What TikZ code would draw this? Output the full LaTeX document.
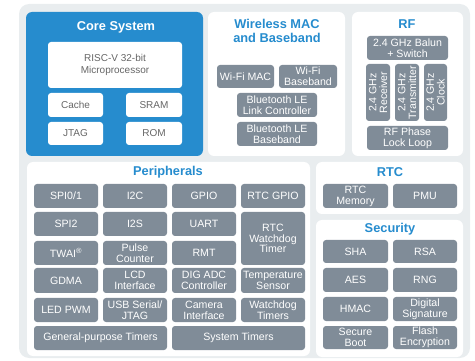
\documentclass[tikz,border=0pt]{standalone}
\usepackage{fontspec}
\setmainfont{Liberation Sans}
\definecolor{cblue}{HTML}{268CCE}
\definecolor{cgray}{HTML}{808C98}
\definecolor{cbg}{HTML}{E9EDEF}
\definecolor{ctext}{HTML}{666666}
\tikzset{
  gbox/.style={draw=none, fill=cgray, rounded corners=3pt, text=white, align=center, inner sep=0pt, font=\fontsize{10.6}{10.8}\selectfont},
  wbox/.style={draw=none, fill=white, rounded corners=3pt, text=ctext, align=center, inner sep=0pt, font=\fontsize{10}{12}\selectfont},
  panel/.style={draw=none, fill=white, rounded corners=6pt, inner sep=0pt},
  ptitle/.style={text=cblue, font=\bfseries\fontsize{12.8}{13.2}\selectfont, align=center, inner sep=0pt},
}
\newcommand\bx[7]{\node[#1, minimum width={(#5-#3)*1pt}, minimum height={(#6-#4)*1pt}] (#2) at ({(#3+#5)/2},{(#4+#6)/2}) {#7};}
\begin{document}
\begin{tikzpicture}[x=1pt,y=-1pt]
\useasboundingbox (0,0) rectangle (475,361);
\fill[cbg, rounded corners=10pt] (19,4) rectangle (470,358);
% Core system
\bx{panel, fill=cblue}{core}{26}{12}{203}{156}{}
\node[ptitle, text=white] (coret) at (116,27) {Core System};
\bx{wbox}{risc}{48}{42}{182}{88}{RISC-V 32-bit\\Microprocessor}
\bx{wbox}{cache}{48}{93}{103}{117}{Cache}
\bx{wbox}{sram}{126}{93}{182}{117}{SRAM}
\bx{wbox}{jtag}{48}{122}{103}{145}{JTAG}
\bx{wbox}{rom}{126}{122}{182}{145}{ROM}
% Wireless
\bx{panel}{wl}{208}{12}{345}{156}{}
\node[ptitle] (wlt) at (277,31) {Wireless MAC\\and Baseband};
\bx{gbox}{wmac}{217}{65}{274}{88}{Wi-Fi MAC}
\bx{gbox}{wbb}{279}{65}{337}{88}{Wi-Fi\\Baseband}
\bx{gbox}{btlc}{237}{93}{317}{117}{Bluetooth LE\\Link Controller}
\bx{gbox}{btbb}{237}{122}{317}{146}{Bluetooth LE\\Baseband}
% RF
\bx{panel}{rf}{352}{12}{463}{156}{}
\node[ptitle] (rft) at (407,24) {RF};
\bx{gbox}{balun}{367}{36}{448}{60}{2.4 GHz Balun\\+ Switch}
\bx{gbox}{rx}{366}{64}{390}{121}{}
\bx{gbox}{tx}{395}{64}{419}{121}{}
\bx{gbox}{clk}{424}{64}{447}{121}{}
\node[gbox, fill=none, rotate=90] (rxt) at (rx) {2.4 GHz\\Receiver};
\node[gbox, fill=none, rotate=90] (txt) at (tx) {2.4 GHz\\Transmitter};
\node[gbox, fill=none, rotate=90] (clkt) at (clk) {2.4 GHz\\Clock};
\bx{gbox}{pll}{367}{126}{448}{150}{RF Phase\\Lock Loop}
% Peripherals
\bx{panel}{per}{27}{162}{310}{356}{}
\node[ptitle] (pert) at (168,172) {Peripherals};
\bx{gbox}{spi01}{34}{184}{98}{208}{SPI0/1}
\bx{gbox}{i2c}{103}{184}{167}{208}{I2C}
\bx{gbox}{gpio}{172}{184}{236}{208}{GPIO}
\bx{gbox}{rtcgpio}{241}{184}{305}{208}{RTC GPIO}
\bx{gbox}{spi2}{34}{212}{98}{236}{SPI2}
\bx{gbox}{i2s}{103}{212}{167}{236}{I2S}
\bx{gbox}{uart}{172}{212}{236}{236}{UART}
\bx{gbox}{rtcwd}{241}{212}{305}{265}{RTC\\Watchdog\\Timer}
\bx{gbox}{twai}{34}{241}{98}{265}{TWAI\textsuperscript{®}}
\bx{gbox}{pcnt}{103}{241}{167}{265}{Pulse\\Counter}
\bx{gbox}{rmt}{172}{241}{236}{265}{RMT}
\bx{gbox}{gdma}{34}{268}{98}{293}{GDMA}
\bx{gbox}{lcd}{103}{268}{167}{293}{LCD\\Interface}
\bx{gbox}{adc}{172}{268}{236}{293}{DIG ADC\\Controller}
\bx{gbox}{temp}{241}{268}{305}{293}{Temperature\\Sensor}
\bx{gbox}{ledpwm}{34}{298}{98}{322}{LED PWM}
\bx{gbox}{usb}{103}{298}{167}{322}{USB Serial/\\JTAG}
\bx{gbox}{cam}{172}{298}{236}{322}{Camera\\Interface}
\bx{gbox}{wdt}{241}{298}{305}{322}{Watchdog\\Timers}
\bx{gbox}{gpt}{34}{326}{167}{350}{General-purpose Timers}
\bx{gbox}{syst}{172}{326}{305}{350}{System Timers}
% RTC
\bx{panel}{rtc}{316}{162}{463}{214}{}
\node[ptitle] (rtct) at (390,172) {RTC};
\bx{gbox}{rtcmem}{323}{184}{388}{208}{RTC\\Memory}
\bx{gbox}{pmu}{393}{184}{457}{208}{PMU}
% Security
\bx{panel}{sec}{316}{220}{463}{357}{}
\node[ptitle] (sect) at (390,229) {Security};
\bx{gbox}{sha}{323}{240}{388}{263}{SHA}
\bx{gbox}{rsa}{393}{240}{457}{263}{RSA}
\bx{gbox}{aes}{323}{268}{388}{292}{AES}
\bx{gbox}{rng}{393}{268}{457}{292}{RNG}
\bx{gbox}{hmac}{323}{297}{388}{321}{HMAC}
\bx{gbox}{ds}{393}{297}{457}{321}{Digital\\Signature}
\bx{gbox}{sboot}{323}{326}{388}{349}{Secure\\Boot}
\bx{gbox}{flash}{393}{326}{457}{349}{Flash\\Encryption}
\end{tikzpicture}
\end{document}
